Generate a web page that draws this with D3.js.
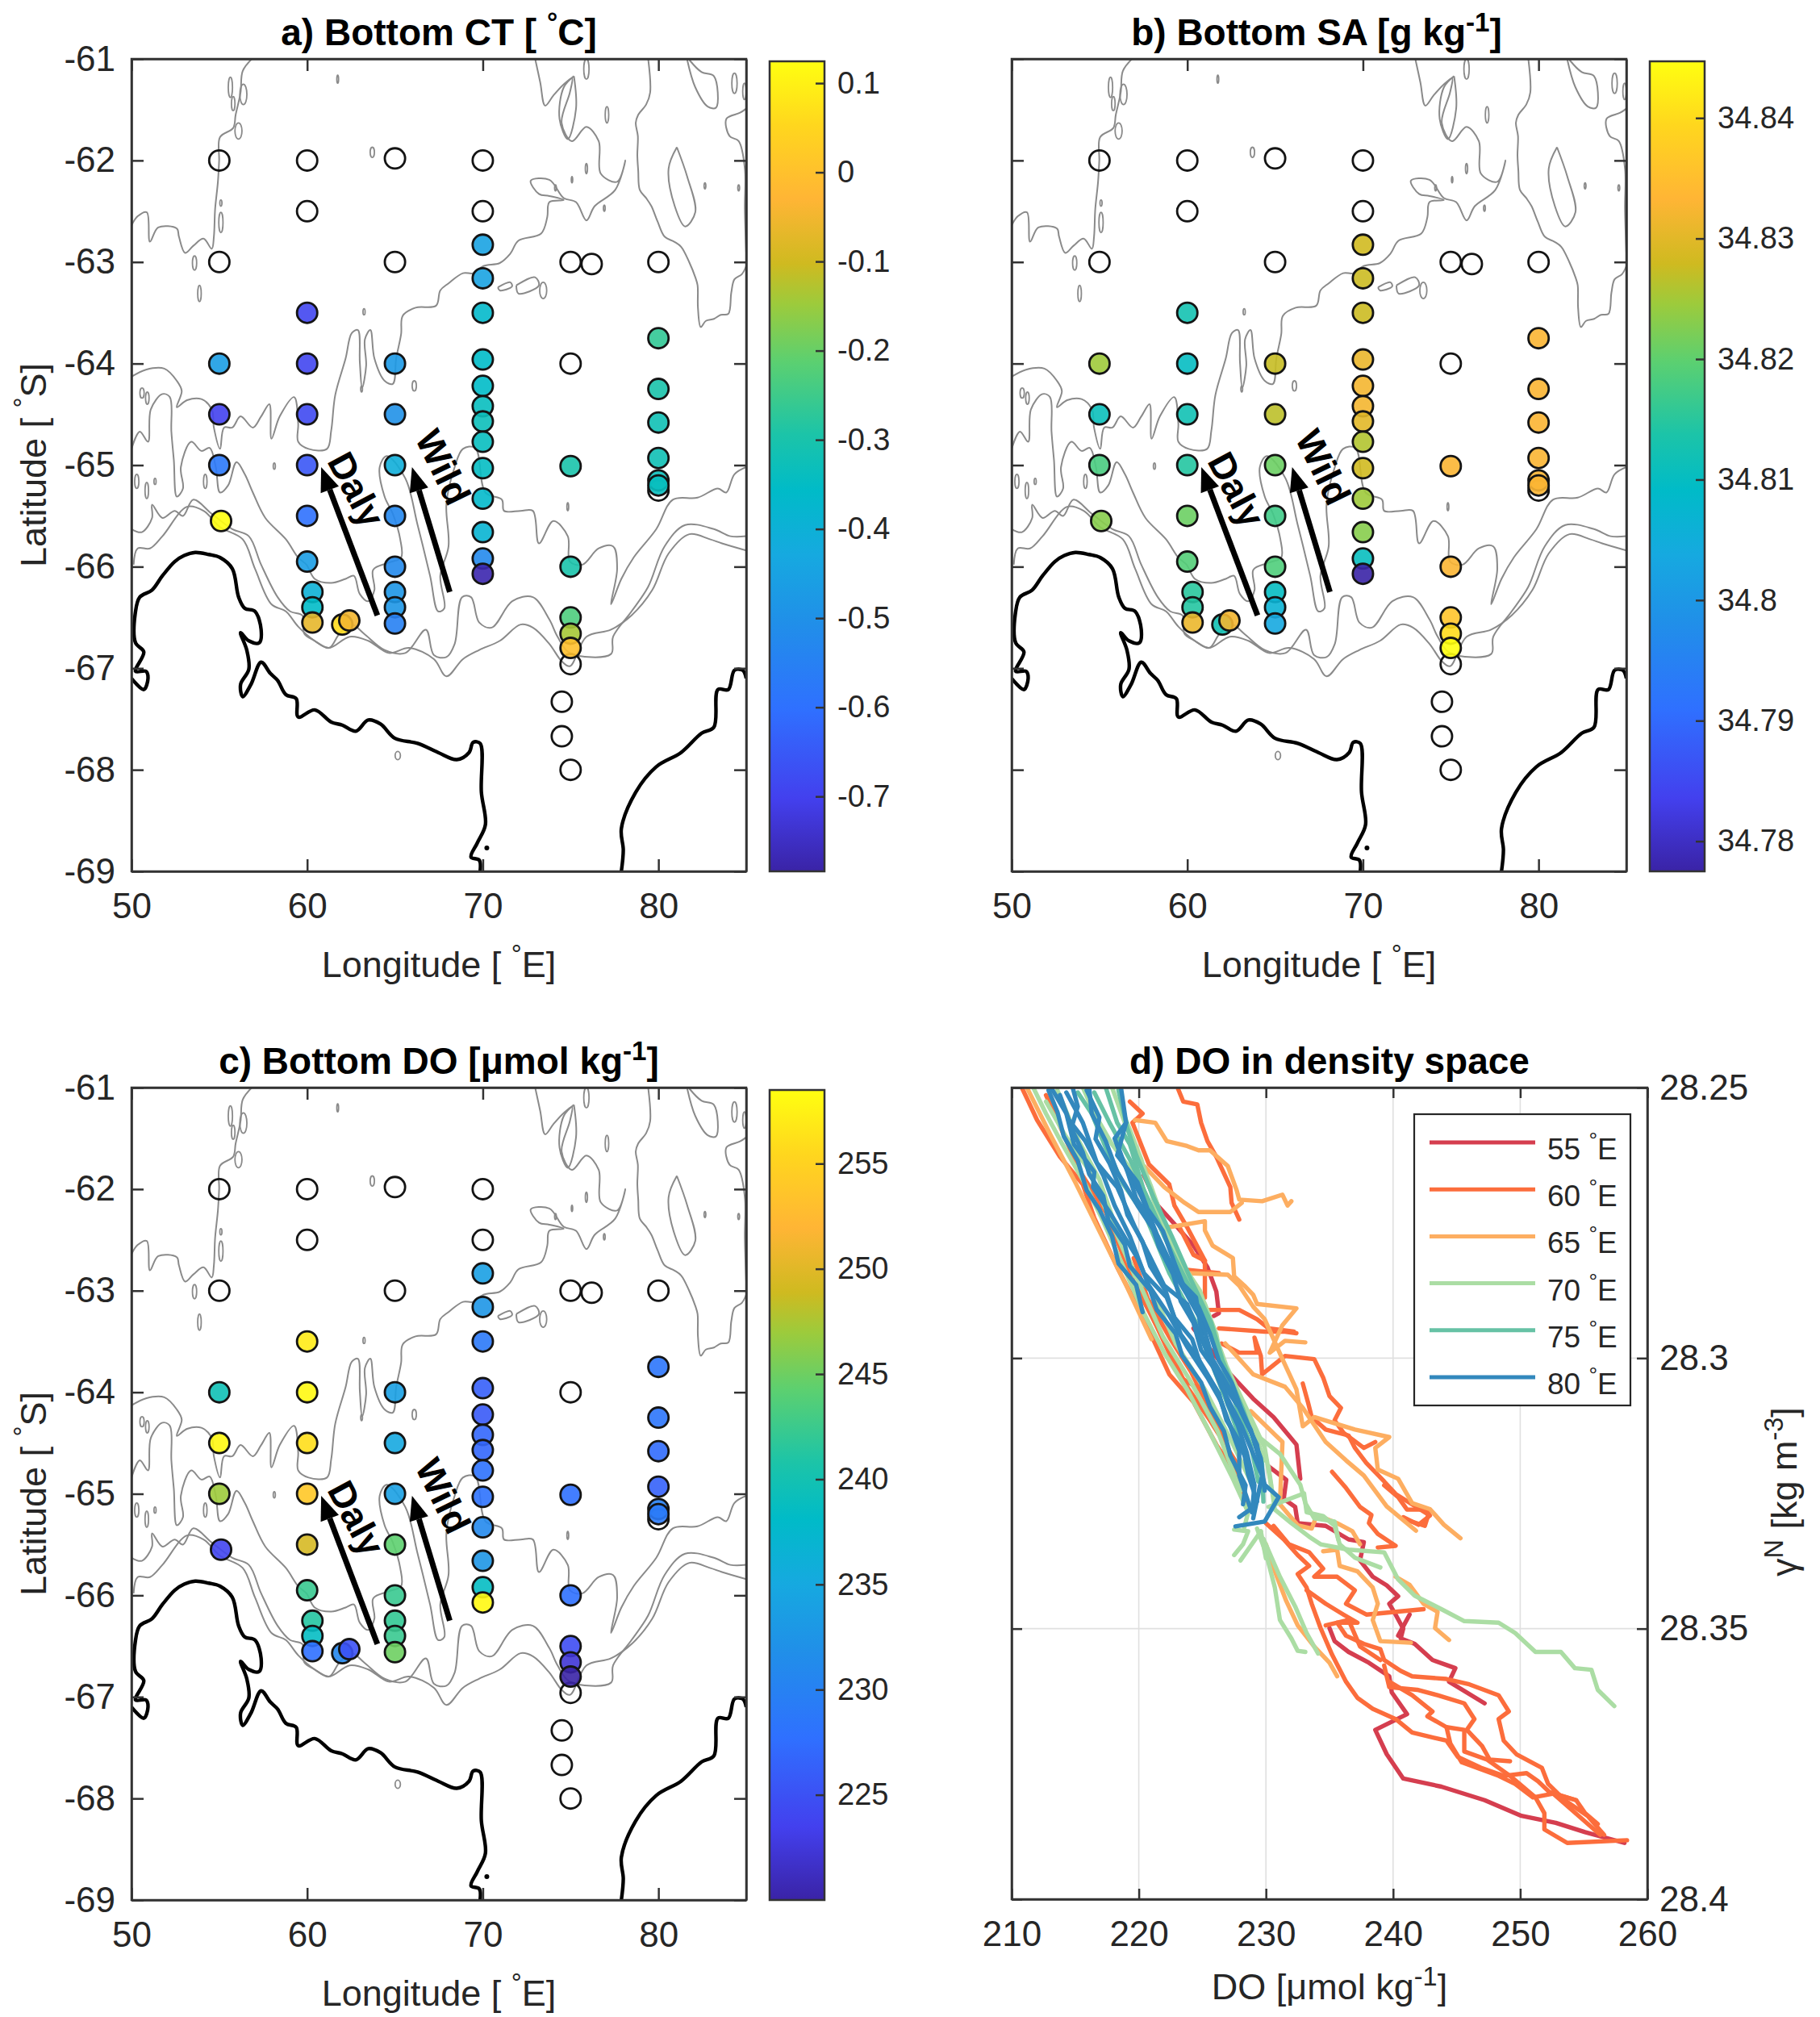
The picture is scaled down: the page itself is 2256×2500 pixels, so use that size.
<!DOCTYPE html>
<html>
<head>
<meta charset="utf-8">
<script src="https://d3js.org/d3.v7.min.js"></script>
<style>
  html, body { margin: 0; padding: 0; background: #fff; }
  svg text { font-family: "Liberation Sans", Arial, sans-serif; fill: #262626; }
</style>
</head>
<body>
<div id="chart"></div>
<script>
// stations: lon, lat, then bottom CT, SA and DO (null = no value, open circle)
var stationLon = [55,55,55,55,55,55.1,
  60,60,60,60,60,60,60,60,60.3,60.3,60.3,62,62.4,
  65,65,65,65,65,65,65,65,65,65,
  70,70,70,70,70,70,70,70,70,70,70,70,70,70,70,
  75,76.2,75,75,75,75,75,75,75,74.5,74.5,75,
  80,80,80,80,80,80,80,80];
var stationLat = [-62,-63,-64,-64.5,-65,-65.55,
  -62,-62.5,-63.5,-64,-64.5,-65,-65.5,-65.95,-66.25,-66.4,-66.55,-66.57,-66.53,
  -61.98,-63,-64,-64.5,-65,-65.5,-66,-66.25,-66.4,-66.56,
  -62,-62.5,-62.83,-63.16,-63.5,-63.96,-64.22,-64.42,-64.57,-64.77,-65.03,-65.33,-65.66,-65.92,-66.07,
  -63,-63.02,-64,-65.01,-66,-66.5,-66.66,-66.8,-66.96,-67.33,-67.67,-68,
  -63,-63.75,-64.25,-64.58,-64.93,-65.25,-65.15,-65.2];
var bottomCT = [null,null,-0.466,-0.70,-0.575,0.125,
  null,null,-0.69,-0.69,-0.684,-0.657,-0.60,-0.466,-0.40,-0.357,-0.066,0.06,-0.048,
  null,null,-0.475,-0.50,-0.41,-0.53,-0.52,-0.484,-0.484,-0.55,
  null,null,-0.448,-0.448,-0.366,-0.357,-0.357,-0.339,-0.33,-0.339,-0.348,-0.366,-0.384,-0.52,-0.775,
  null,null,null,-0.30,-0.30,-0.23,-0.139,-0.002,null,null,null,null,
  null,-0.266,-0.30,-0.32,-0.32,null,-0.33,-0.339];
var bottomSA = [null,null,34.8247,34.811,34.818,34.823,
  null,null,34.8125,34.81,34.812,34.8145,34.821,34.819,34.815,34.8145,34.831,34.812,34.832,
  null,null,34.8274,34.8267,34.821,34.8172,34.8186,34.81,34.8064,34.8036,
  null,null,34.828,34.8277,34.8277,34.831,34.832,34.832,34.83,34.826,34.828,34.8247,34.823,34.8104,34.7775,
  null,null,null,34.8328,34.8328,34.836,34.84,34.845,null,null,null,null,
  null,34.8328,34.8328,34.8328,34.8328,null,34.8328,34.8328];
var bottomDO = [null,null,239.6,258,247,223.9,
  null,null,257,258,256,254,249.3,242.3,241.2,238.5,227.7,230.8,225,
  null,null,233.9,235,233.9,244.3,242.3,242,242.3,245,
  null,null,233.9,232.7,228.9,226.2,225.8,226.9,226.9,228,228,231,232.7,238.5,258,
  null,null,null,227.7,227.7,224.6,222.3,220,null,null,null,null,
  null,228.5,228.5,227.3,226.5,null,230,229];

var ctTicks = [0.1,0,-0.1,-0.2,-0.3,-0.4,-0.5,-0.6,-0.7];
var saTicks = [34.84,34.83,34.82,34.81,34.8,34.79,34.78];
var doTicks = [255,250,245,240,235,230,225];
var ctRange = [-0.784,0.1245];
var saRange = [34.7775,34.8447];
var doRange = [220,258.5];

var lonTicks = [50,60,70,80];
var latTicks = [-61,-62,-63,-64,-65,-66,-67,-68,-69];
var doAxisTicks = [210,220,230,240,250,260];
var gammaTicks = [28.25,28.3,28.35,28.4];

// colormap
var cmapStops = [0,.09,.2,.31,.39,.47,.54,.63,.7,.75,.83,.92,1];
var cmapColors = ["#3a23a6","#4340ee","#2f70ff","#2090e8","#16a9e0","#00bbc8","#1cc4a8","#5cd070","#9ccb3c","#cfba20","#ffb535","#ffd61e","#ffff10"];

// coastline, lon/lat
var coastWest = [[50,-67.1],[50.7,-67.21],[50.94,-67.1],[50.82,-67.03],[50.23,-67.03],[50.7,-66.84],[50.23,-66.75],[50.23,-66.44],[50.47,-66.3],[51.17,-66.23],[51.76,-66.09],[52.46,-65.95],[53.0,-65.89],[53.63,-65.86],[54.4,-65.88],[55.04,-65.91],[55.74,-66.02],[56.1,-66.3],[56.45,-66.41],[57.03,-66.44],[57.38,-66.62],[57.27,-66.75],[56.68,-66.73],[56.21,-66.65],[56.56,-66.82],[56.68,-67.01],[56.21,-67.16],[56.33,-67.28],[56.8,-67.16],[57.38,-66.94],[57.9,-67.05],[58.32,-67.12],[58.79,-67.26],[59.38,-67.3],[59.49,-67.48],[60.43,-67.41],[61.37,-67.53],[62.0,-67.56],[62.77,-67.62],[63.48,-67.51],[64.18,-67.55],[65,-67.69],[66.29,-67.74],[67.46,-67.83],[68.52,-67.9],[69.22,-67.83],[69.45,-67.73],[69.85,-67.74],[69.92,-68.22],[70.15,-68.54],[69.69,-68.72],[69.33,-68.86],[69.8,-68.89],[69.85,-69]];
var coastEast = [[77.89,-69],[78,-68.79],[77.89,-68.58],[78.71,-68.22],[79.88,-67.97],[81.29,-67.83],[82.46,-67.64],[83.16,-67.58],[83.39,-67.21],[83.98,-67.21],[84.33,-67.02],[84.8,-67.02],[85,-67.1]];

// bathymetry contours, lon/lat
var contourNorth = [[50,-64.13],[50.82,-64.06],[51.87,-64.05],[52.58,-64.17],[52.86,-64.27],[52.58,-64.43],[53.16,-64.36],[53.98,-64.35],[54.57,-64.45],[54.69,-64.63],[55.04,-64.84],[55.27,-64.63],[55.74,-64.63],[56.21,-64.52],[56.91,-64.63],[57.38,-64.52],[57.85,-64.4],[57.97,-64.74],[58.44,-64.52],[59.26,-64.33],[59.49,-64.59],[59.49,-64.77],[60.08,-64.84],[61.13,-64.84],[61.37,-64.66],[61.6,-64.31],[62.19,-63.95],[62.54,-63.7],[62.89,-63.67],[63,-63.99],[63.13,-64.24],[63.36,-64.02],[63.29,-63.76],[63.6,-63.67],[63.83,-63.95],[64.41,-64.17],[64.88,-64.2],[65.07,-63.95],[65.35,-63.71],[65.44,-63.53],[66.17,-63.45],[67.34,-63.43],[67.58,-63.28],[68.05,-63.21],[68.87,-63.11],[69.45,-63.11],[70.04,-63.04],[70.97,-63.01],[71.56,-62.92],[72.03,-62.79],[73.32,-62.72],[73.67,-62.56],[73.79,-62.41],[74.61,-62.39],[73.79,-62.35],[73.2,-62.33],[72.73,-62.2],[73.79,-62.19],[74.61,-62.37],[75.31,-62.41],[75.9,-62.59],[76.37,-62.45],[77.54,-62.29],[78.12,-62],[77.65,-62.21],[76.72,-62.13],[76.6,-61.81],[75.9,-61.67],[75.08,-61.81],[74.49,-61.63],[74.96,-61.33],[75.08,-61.19],[74.61,-61.25],[74.02,-61.36],[73.55,-61.46],[73.27,-61.23],[72.97,-60.99]];
var contourMiddle = [[50,-64.84],[50.47,-64.67],[50.94,-64.77],[51.1,-64.45],[51.76,-64.3],[52.18,-64.33],[52.27,-64.67],[52.41,-64.95],[52.58,-65.31],[52.93,-65.23],[52.81,-65.02],[53.4,-64.77],[53.98,-64.86],[54.45,-64.83],[54.8,-65.02],[55.04,-65.27],[55.5,-65.2],[55.98,-64.97],[56.45,-65.09],[56.91,-65.27],[57.62,-65.52],[58.79,-65.73],[59.49,-65.91],[59.96,-65.98],[60.43,-66.12],[61.37,-66.16],[62.19,-66.12],[62.66,-66.09],[63,-66.27],[63.48,-66.34],[63.83,-66.23],[63.76,-66.03],[64.65,-65.96],[65.35,-65.91],[65.3,-65.73],[64.88,-65.48],[64.41,-65.31],[64.13,-65.02],[64.53,-64.91],[65.59,-65.13],[66.29,-65.59],[67,-66.09],[67.46,-66.44],[67.81,-66.41],[67.58,-66.09],[68.05,-65.8],[67.93,-65.38],[68.4,-65.02],[68.87,-64.84],[69.57,-64.83],[70.15,-65.27],[71.09,-65.34],[71.21,-65.45],[72.15,-65.45],[72.85,-65.45],[73.2,-65.77],[74.02,-65.55],[74.84,-65.7],[74.96,-65.95],[75.67,-65.98],[76.6,-65.82],[77.42,-65.8],[77.65,-66.02],[77.3,-66.37],[77.89,-66.12],[78.59,-65.91],[79.88,-65.63],[80.82,-65.34],[82.23,-65.32],[83.39,-65.23],[83.86,-65.27],[84.33,-65.09],[85,-65.02]];
var contourSouth1 = [[50,-65.63],[50.59,-65.66],[51.17,-65.52],[51.17,-65.39],[51.76,-65.52],[52.46,-65.45],[52.93,-65.5],[53.52,-65.34],[54.57,-65.48],[55.74,-65.63],[56.68,-65.7],[57.38,-65.98],[58.32,-66.3],[59.03,-66.44],[59.73,-66.48],[59.84,-66.66],[60.43,-66.73],[61.25,-66.8],[61.84,-66.66],[62.54,-66.57],[63.24,-66.66],[64.41,-66.82],[65.59,-66.85],[66.76,-66.62],[67.22,-66.87],[67.93,-66.89],[68.4,-66.76],[68.82,-66.3],[69.33,-66.3],[69.8,-66.55],[70.51,-66.6],[71.68,-66.34],[72.85,-66.3],[73.79,-66.52],[74.26,-66.69],[74.96,-66.85],[77.3,-66.86],[77.42,-66.69],[78.47,-66.44],[79.41,-66.2],[80.35,-65.8],[81.52,-65.59],[83.16,-65.63],[84.1,-65.7],[85,-65.7]];
var contourSouth2 = [[50.12,-65.98],[50.35,-65.82],[51.05,-65.82],[51.76,-65.7],[53.16,-65.41],[54.1,-65.45],[55.04,-65.61],[56.33,-65.73],[57.03,-66.02],[57.97,-66.37],[58.79,-66.44],[59.49,-66.59],[60.43,-66.73],[61.25,-66.8],[62.42,-66.69],[63.48,-66.73],[64.65,-66.85],[65.82,-66.8],[67.22,-66.91],[67.93,-67.08],[68.87,-66.91],[69.8,-66.82],[70.97,-66.73],[72.15,-66.57],[72.85,-66.6],[73.79,-66.76],[74.49,-66.93],[74.96,-66.98],[75.9,-66.69],[77.3,-66.62],[78.47,-66.48],[79.65,-66.23],[80.58,-65.87],[81.76,-65.68],[82.93,-65.73],[83.62,-65.77],[85,-65.84]];
var contourNW = [[56.91,-60.99],[56.33,-61.12],[56.21,-61.33],[55.93,-61.55],[55.79,-61.68],[55.04,-61.77],[54.99,-62],[54.92,-62.21],[54.76,-62.48],[54.69,-62.75],[54.57,-62.87],[54.1,-62.77],[53.52,-62.84],[53.05,-62.91],[52.7,-62.75],[52.58,-62.67],[51.52,-62.66],[51.05,-62.8],[50.87,-62.51],[50.35,-62.55],[50,-62.64]];
var contourNE = [[79.41,-60.99],[79.53,-61.33],[79.3,-61.45],[78.85,-61.55],[78.71,-61.63],[78.83,-61.76],[78.8,-61.95],[78.85,-62.1],[78.94,-62.29],[79.3,-62.37],[79.6,-62.45],[79.95,-62.6],[80.35,-62.75],[80.9,-62.8],[81.29,-62.85],[81.75,-63],[82.1,-63.15],[82.23,-63.23],[82.25,-63.45],[82.41,-63.64],[82.7,-63.58],[83.16,-63.56],[83.55,-63.52],[83.98,-63.51],[84.15,-63.3],[84.33,-63.17],[84.75,-63.12],[85,-63.04]];
var contourLoopE = [[81.05,-61.87],[80.58,-62.08],[80.93,-62.45],[81.52,-62.65],[82.1,-62.51],[81.64,-62.16],[81.05,-61.87]];
var contourLoopF = [[81.76,-61.01],[82.46,-61.13],[83.16,-61.17],[83.28,-61.48],[82.81,-61.47],[82.1,-61.28],[81.64,-61.01]];
var contourEdge = [[85,-61.49],[84.65,-61.53],[83.87,-61.59],[84.05,-61.76],[84.57,-61.81],[84.92,-62.08],[84.92,-62.48],[85,-62.91]];
var contourInner = [[75.19,-61.17],[75.31,-61.49],[74.84,-61.79],[74.37,-61.59],[74.61,-61.28],[75.19,-61.17]];
var contourIsle1 = [[70.86,-63.25],[71.56,-63.2],[71.67,-63.24],[70.97,-63.28],[70.86,-63.25]];
var contourIsle2 = [[71.91,-63.23],[72.97,-63.15],[73.2,-63.23],[72.03,-63.31],[71.91,-63.23]];
// small closed contours: lon, lat, half width, half height
var contourSpots = [[61.74,-61.2,.05,.04],[55.63,-61.28,.12,.1],[56.37,-61.35,.2,.1],[55.79,-61.44,.1,.07],[56.09,-61.71,.2,.08],[55.09,-62.42,.06,.03],[55.09,-62.61,.12,.1],[53.59,-63.01,.12,.07],[53.87,-63.31,.1,.08],[63.71,-61.92,.12,.05],[63.24,-63.49,.06,.03],[77.07,-61.55,.1,.08],[75.9,-61.1,.15,.1],[84.33,-61.24,.15,.1],[84.9,-61.32,.1,.08],[75.9,-62.08,.06,.05],[75.08,-62.19,.04,.03],[74.14,-62.27,.05,.03],[76.92,-62.47,.05,.03],[82.65,-62.25,.05,.03],[84.57,-62.27,.05,.03],[50.6,-64.29,.12,.05],[50.9,-64.34,.1,.06],[66.1,-64.22,.12,.05],[63.1,-64.25,.05,.03],[50.3,-65.16,.12,.07],[50.87,-65.25,.1,.08],[51.34,-65.16,.06,.03],[54.2,-65.16,.1,.07],[58.13,-65.01,.06,.03],[74.84,-65.41,.05,.04],[65.16,-67.86,.15,.04],[73.44,-63.28,.2,.08]];
var islet = [70.23,-68.77];

var dalyArrow = [[64,-66.48],[60.8,-65.02]];
var wildArrow = [[68.12,-66.25],[65.97,-65.02]];

// DO [umol/kg], gamma pairs, one list of profiles per longitude
var profiles55 = [
 [[220.4,28.2662],[221.5,28.2718],[222.8,28.2752],[224.3,28.2792],[225.4,28.2832],[226.1,28.2877],[226.3,28.2917],[225.9,28.2922]],
 [[224.3,28.2945],[227.2,28.303],[229,28.3075],[230.6,28.3109],[232.4,28.316],[232.7,28.3223]],
 [[230.2,28.32],[231.6,28.3225],[231.4,28.326],[232.3,28.3275],[232.5,28.3305],[234.7,28.331],[236.5,28.3335],[237.7,28.334],[237.4,28.3374],[238.4,28.3404],[239.5,28.342],[240.4,28.344],[239.7,28.3454],[240.2,28.3474],[240.8,28.35],[240.6,28.3518],[241.7,28.3528],[243.1,28.3558],[244.9,28.3573],[244.4,28.3598],[247.2,28.3638]],
 [[241.3,28.3474],[240.4,28.3513]],
 [[235,28.3499],[235.4,28.3523],[236.5,28.3543],[238.1,28.3563],[239.7,28.3588],[239.9,28.3618],[241.1,28.3658],[238.6,28.3687],[239.5,28.3732],[240.8,28.3777],[243.8,28.3792],[247.2,28.3817],[250.1,28.3846],[252.8,28.3859],[255.1,28.3876],[258.2,28.3896]]
];
var profiles60 = [
 [[223.1,28.2503],[223.5,28.2526],[224.6,28.2531],[224.9,28.2565],[225.4,28.2599],[226.1,28.2628],[227.2,28.2684],[227.3,28.2713],[227.9,28.2744]],
 [[219.3,28.2526],[220.3,28.2548],[219.5,28.2565],[220.8,28.2642],[222.4,28.2679],[222.8,28.2718],[223.8,28.2758],[225.2,28.282],[225.2,28.2888]],
 [[225.4,28.2911],[227.9,28.2911],[229.3,28.2928],[230.2,28.2945],[232.2,28.2951]],
 [[226.3,28.2945],[229.9,28.2951],[231.5,28.2951],[232.4,28.2954]],
 [[226.5,28.2973],[227.9,28.299],[229.3,28.299],[229.1,28.2962],[229.6,28.2996],[229.7,28.303],[231.5,28.2996],[233.8,28.3002],[234.5,28.3036],[235,28.307],[235.9,28.3092],[235.4,28.3115],[236.1,28.3138],[237.7,28.3166],[238.6,28.3155]],
 [[232.9,28.3047],[233.3,28.3081],[233.6,28.3109],[234.7,28.3132],[236.5,28.3143],[237,28.3166],[237.9,28.3194],[239.3,28.3228],[240.2,28.3251],[242.9,28.3291],[242,28.3308],[240.8,28.3294]],
 [[235.2,28.321],[236.3,28.324],[237.4,28.3275],[238.3,28.329],[238.1,28.3305],[238.8,28.3325],[240.2,28.3347],[238.8,28.335]],
 [[239.3,28.3235],[240.4,28.3257],[241.1,28.328],[242.9,28.328],[242.5,28.331],[240.8,28.3297]],
 [[230,28.3305],[231.4,28.3335],[232.5,28.3364],[233.4,28.3384],[232.5,28.3399],[233.2,28.3424],[233.6,28.3454],[234.3,28.3499],[235.2,28.3548],[236.3,28.3598],[237.2,28.3628],[238.4,28.3648],[240.2,28.3667],[241.5,28.3692],[244.2,28.3707],[245.1,28.3737],[246.9,28.3757],[248.7,28.3772],[250.5,28.3767],[251.4,28.3782],[252.3,28.3802],[254.4,28.3817]],
 [[230.6,28.331],[231.8,28.3344],[233.4,28.3359],[234.5,28.3389],[233.8,28.3404],[235.6,28.3404],[237,28.3429],[236.3,28.3454],[237.9,28.3474],[242.4,28.3464]],
 [[233.2,28.3429],[234.7,28.3454],[236.1,28.3474],[237.2,28.3489],[235.6,28.3489],[236.3,28.3513],[237.7,28.3528],[239,28.3538],[239.3,28.3558],[240.6,28.3578],[241.5,28.3588],[244.2,28.3593],[246,28.3603],[248.3,28.3623],[249.1,28.3653],[248.3,28.3667],[248.7,28.3707],[249.7,28.3732],[251.7,28.3757],[252.2,28.3787],[253.5,28.3817],[255.3,28.3846],[256.6,28.3881]],
 [[239.3,28.3568],[239.7,28.3608],[241.9,28.3613],[243.5,28.3623],[245.6,28.3638],[246.4,28.3667],[245.8,28.3687],[247,28.3717],[247.6,28.3742],[249.2,28.3745]],
 [[239.7,28.3598],[241.5,28.3623],[243.1,28.3653],[242.7,28.3662],[244.2,28.3682],[245.6,28.3687],[245.6,28.3727],[247.4,28.3742],[249.2,28.3772],[251.2,28.3812],[251.9,28.3841],[251.9,28.3871],[253.7,28.3896],[258.4,28.3891]],
 [[244.2,28.3682],[244.5,28.3712],[245.4,28.3747],[248.3,28.3772],[249.6,28.3787],[251,28.3812],[252.6,28.3805],[254.4,28.3817],[255.1,28.3841],[256.1,28.3861]],
 [[252.6,28.3805],[256.3,28.3881]],
 [[234.7,28.3494],[236.5,28.3484],[237.4,28.3533],[239,28.3558]],
 [[210.8,28.25],[212,28.256],[213.8,28.2628],[215.6,28.2679],[216.5,28.2741],[218.3,28.2832],[220.4,28.2928],[222.4,28.303],[224.3,28.3081],[226.1,28.316],[227.7,28.3217],[228.6,28.3274]],
 [[212.7,28.2514],[214,28.2582],[215.4,28.2656],[217.4,28.273],[219.5,28.2854],[221.5,28.2945],[223.8,28.3053],[225.6,28.3115],[227.7,28.3194]],
 [[220.2,28.2866],[220.8,28.2911],[223.3,28.3036],[225.2,28.3064],[227,28.3183]],
 [[223.2,28.2758],[224.3,28.2809],[225.2,28.282]],
 [[223.8,28.2837],[226.3,28.2843]],
 [[219.6,28.2815],[220.7,28.289],[222.5,28.2965],[224.1,28.3025],[225.9,28.311],[226.8,28.315],[228.1,28.324]]
];
var profiles65 = [
 [[219.7,28.256],[221.3,28.2565],[222.2,28.2599],[223.8,28.2608],[224.7,28.2616],[225.6,28.2616],[227,28.2645],[227.7,28.269],[227.9,28.2707],[229.7,28.271],[231.3,28.2698],[231.7,28.2718],[232,28.271]],
 [[220.4,28.2645],[222,28.2684],[223.6,28.2713],[224.7,28.273],[227.2,28.273],[228.1,28.2713]],
 [[222.4,28.2758],[225.2,28.2747],[225.2,28.2764],[225.8,28.2792],[227.4,28.2815],[227.5,28.2849],[228.3,28.2866],[229,28.2883],[229.3,28.29],[232.4,28.2908],[231.3,28.2939],[230.3,28.299],[231.5,28.2968],[233.1,28.2971]],
 [[223.8,28.2843],[227,28.2846],[227.9,28.2866],[229,28.2905],[229.9,28.2928],[231.3,28.3002],[232.4,28.3058],[232.9,28.3126],[233.8,28.3109],[237,28.3132],[239.7,28.3146],[238.6,28.3166],[238.8,28.3206],[240.4,28.3223],[241.5,28.3268],[242.9,28.3279],[244,28.3308],[245.3,28.3333]],
 [[226.8,28.2973],[229,28.303],[231.5,28.3053],[232.9,28.3092],[234.7,28.3155],[236.3,28.3189],[237.7,28.3217],[239.5,28.3274],[241.8,28.3319]],
 [[228.8,28.3098],[231.3,28.3155],[231.1,28.327],[232.5,28.3309],[233.6,28.3315],[234,28.329],[235.6,28.3305],[236.8,28.332],[237.4,28.3344]],
 [[234.5,28.3357],[235.6,28.3354],[235.8,28.3384],[237.2,28.3394],[238.4,28.3424],[238.8,28.3454],[238.4,28.3484],[239,28.3523],[241.4,28.3526]],
 [[240.2,28.3404],[241.3,28.3419],[242.4,28.3454],[243.5,28.3469],[243.3,28.3499],[244.4,28.3521]],
 [[230,28.3344],[230.7,28.3394],[231.6,28.3449],[232.5,28.3494],[233.8,28.3533],[235,28.3563],[235.6,28.3588]],
 [[211.2,28.25],[213,28.2585],[215,28.2675],[217,28.277],[219,28.2865],[221,28.2965]]
];
var profiles70 = [
 [[211.7,28.25],[212.7,28.2548],[214,28.2605],[215.8,28.2679],[217.2,28.2747],[218.8,28.2832],[220.4,28.2917],[222,28.299],[223.8,28.3058],[225.6,28.3138],[227.4,28.3223],[228.6,28.3285],[228.3,28.3313]],
 [[212.7,28.2526],[214.2,28.2588],[216,28.265],[217.7,28.2741],[219.7,28.2849],[221.1,28.2877],[222.9,28.2973],[225.2,28.3058],[227.2,28.3149],[228.8,28.3228]],
 [[218.8,28.2548],[220.2,28.2633],[221.5,28.2735],[222.9,28.2815],[224.3,28.286],[225.2,28.29],[226.1,28.2956],[226.5,28.3007],[227.7,28.307],[229.3,28.3143],[231.1,28.3177],[232.7,28.3234],[233.1,28.3268],[233.8,28.3296],[235.4,28.3302],[235.7,28.3336]],
 [[230.2,28.32],[230.7,28.328],[232,28.3305],[233.4,28.333],[234.3,28.3344],[236.5,28.3354],[239.3,28.3359],[240.4,28.3409],[241.7,28.3439],[243.8,28.3464],[245.6,28.3486],[248.3,28.3489],[249.6,28.3508],[251.2,28.3543],[253.2,28.3543],[254.3,28.3573],[255.6,28.3576],[256.1,28.3613],[257.4,28.3643]],
 [[230.2,28.3275],[233,28.325],[233.2,28.3285],[234.5,28.3292],[235.4,28.331],[235.8,28.3344],[237,28.3369],[239,28.3387]],
 [[229.3,28.3315],[230,28.336],[230.7,28.3424],[231.1,28.3484],[232,28.3518],[232.5,28.3541],[233.1,28.3543]],
 [[229.8,28.3334],[231.1,28.3404],[232.3,28.3459],[233.2,28.3508],[234.1,28.3546]],
 [[227.5,28.3317],[228.6,28.332],[228.2,28.3344],[227.5,28.3364]],
 [[229.6,28.332],[228,28.3374]],
 [[229.6,28.332],[230,28.337]],
 [[215.6,28.25],[216.5,28.2548],[217.9,28.2605],[219.7,28.2662],[221.5,28.2747],[222.7,28.2809],[224.7,28.2888],[225.8,28.2956],[226.5,28.3002],[227.4,28.3058],[229,28.3132],[229.9,28.3189]],
 [[217.9,28.25],[218.9,28.2565],[220,28.2625],[221,28.2685],[222.2,28.2765],[223.4,28.2825],[224.8,28.2875],[225.9,28.295],[226.9,28.3015],[228.2,28.308],[229.9,28.3165],[230.4,28.3235]],
 [[213.6,28.2505],[215.2,28.2595],[216.9,28.267],[218.6,28.2785],[220.3,28.2875],[221.9,28.296],[224,28.304],[226.2,28.3135],[228,28.3245]]
];
var profiles75 = [
 [[217.4,28.25],[218.3,28.2565],[219.3,28.2605],[220.4,28.269],[222,28.2775],[223.8,28.286],[225.2,28.2917],[226.1,28.2979],[227.2,28.3058],[228.8,28.316],[229.4,28.3228]],
 [[215.2,28.2509],[216.3,28.2548],[217.4,28.2611],[218.8,28.2679],[220.6,28.2741],[222.4,28.2843],[224.5,28.2934],[225.6,28.3002],[227.2,28.3098],[228.3,28.3172]],
 [[216.5,28.2509],[217.7,28.2565],[219.3,28.2633],[220.8,28.271],[222.6,28.2805],[224.2,28.2895]],
 [[218.4,28.2505],[219.1,28.2575],[219.8,28.2625],[221.2,28.2705],[222.6,28.2775],[224.1,28.2855],[225.7,28.2935],[226.6,28.3005],[228.2,28.3095],[229.7,28.3195],[229.8,28.3265]]
];
var profiles80 = [
 [[213.1,28.25],[214.3,28.2548],[214.9,28.2605],[216.5,28.2656],[216.4,28.2684],[217.7,28.273],[219,28.2781],[219.9,28.2815],[220.8,28.2866],[222.4,28.2922],[223.8,28.2979],[225.4,28.3036],[226.5,28.3081],[227.9,28.3172],[227.9,28.3217],[228.8,28.3279],[227.9,28.3294]],
 [[214.3,28.2509],[215.6,28.2565],[216.7,28.2639],[218.3,28.2684],[219.7,28.2758],[220.8,28.2809],[222,28.2866],[223.8,28.29],[225.2,28.2979],[226.5,28.3053],[228.1,28.3126],[229.7,28.3217],[229.9,28.3234],[231,28.3257],[229.9,28.3302],[227.6,28.3311]],
 [[216.1,28.25],[216.3,28.2548],[217.4,28.2599],[218.3,28.2656],[219.9,28.2718],[221.5,28.2775],[223.1,28.2854],[224.5,28.2888],[225,28.2962],[226.1,28.303],[227.9,28.3092],[229.3,28.316],[229.7,28.3217],[229,28.3296]],
 [[218.6,28.25],[219,28.2565],[218.1,28.2594],[218.8,28.2639],[220.2,28.2701],[221.3,28.2764],[222.2,28.282],[223.8,28.2883],[225,28.2934],[225.8,28.3002],[227.2,28.3058],[228.8,28.3132],[229.5,28.3189]],
 [[213.8,28.2514],[214.5,28.256],[215.8,28.2599],[217.2,28.2662],[218.1,28.2718],[219.3,28.2775],[220.4,28.2843],[222.2,28.2888],[223.3,28.2956],[224.7,28.3002],[226.1,28.3058],[227,28.3115],[228.6,28.3194]],
 [[214.8,28.25],[215.2,28.2535],[214.7,28.2575],[215.6,28.262],[216.1,28.266],[217.2,28.27],[217.6,28.2745],[218.9,28.279],[219.3,28.283],[220.9,28.2875],[221.4,28.291],[222.9,28.2955],[223.4,28.2995],[224.9,28.3045],[225.6,28.309],[226.7,28.3135],[227.2,28.318],[228.4,28.3235],[228.2,28.327]],
 [[215.9,28.2505],[216.9,28.2555],[216.6,28.2595],[217.7,28.264],[218.6,28.269],[219.1,28.2735],[220.3,28.2785],[220.9,28.283],[222.1,28.2875],[222.8,28.2925],[224.2,28.2965],[224.9,28.3015],[226.3,28.3065],[226.9,28.3115],[228.2,28.3165],[228.6,28.3215],[229.3,28.3265]],
 [[212.9,28.2505],[213.6,28.2545],[214.1,28.259],[215.2,28.2635],[215.9,28.269],[216.9,28.2725],[217.9,28.2775],[218.4,28.2825],[219.8,28.2865],[220.3,28.2915]],
 [[218.3,28.2605],[219.1,28.2655],[219.8,28.2705],[220.9,28.2745],[221.6,28.2795],[222.7,28.2845],[223.3,28.2895],[224.3,28.2935],[224.9,28.2985],[226.4,28.3035],[227,28.3085],[227.8,28.3125],[228.5,28.3175],[229.1,28.3235],[228.9,28.3285]],
 [[219,28.2565],[218.3,28.2625],[219.9,28.2675],[220.7,28.2725],[221.9,28.2765],[222.9,28.283],[223.5,28.2865],[224.7,28.2905],[225.6,28.2955],[226.3,28.3005],[227.3,28.3045],[228,28.309],[228.9,28.314],[229.6,28.3185],[229.9,28.3245]]
];
var legendLabels = ["55","60","65","70","75","80"];
var legendColors = ["#d53e4f","#fc6d3c","#fdae61","#abdda4","#66c2a5","#3288bd"];
var allProfiles = [profiles55,profiles60,profiles65,profiles70,profiles75,profiles80];

var svg = d3.select("#chart").append("svg")
    .attr("width", 2256)
    .attr("height", 2500);

var cmap = d3.scaleLinear().domain(cmapStops).range(cmapColors).clamp(true);
var axisColor = "#333";

// text with superscript parts: [["a) ",0],["x",1]]
function richText(sel, parts, sup) {
    var raised = false;
    parts.forEach(function(p) {
        var t = sel.append("tspan").text(p[0]);
        if (p[1] && !raised) { t.attr("dy", -sup).style("font-size", "0.72em"); raised = true; }
        else if (!p[1] && raised) { t.attr("dy", sup); raised = false; }
    });
}

function styleAxis(g, size) {
    g.selectAll("path,line").attr("stroke", axisColor).attr("stroke-width", 2.5);
    g.selectAll("text").style("font-size", (size || 44) + "px");
}

function boxAxes(g, x, y, xt, yt, tick, showY, yRight) {
    var bottom = d3.max(y.range());
    g.append("g").attr("transform", "translate(0," + bottom + ")")
        .call(d3.axisBottom(x).tickValues(xt).tickSize(-tick).tickSizeOuter(0).tickPadding(27).tickFormat(function(d) { return String(d); }))
        .call(styleAxis);
    g.append("g")
        .call(d3.axisTop(x).tickValues(xt).tickSize(-tick).tickSizeOuter(0).tickFormat(""))
        .call(styleAxis);
    g.append("g")
        .call(d3.axisLeft(y).tickValues(yt).tickSize(-tick).tickSizeOuter(0).tickPadding(20).tickFormat(function(d) { return showY && !yRight ? String(d) : ""; }))
        .call(styleAxis);
    g.append("g").attr("transform", "translate(" + x.range()[1] + ",0)")
        .call(d3.axisRight(y).tickValues(yt).tickSize(-tick).tickSizeOuter(0).tickPadding(15).tickFormat(function(d) { return yRight ? String(d) : ""; }))
        .call(styleAxis);
}

function colorbar(g, id, range, ticks, w, h, x0) {
    var grad = svg.append("defs").append("linearGradient").attr("id", id)
        .attr("x1", 0).attr("x2", 0).attr("y1", 1).attr("y2", 0);
    grad.selectAll("stop").data(cmapStops).enter().append("stop")
        .attr("offset", function(d) { return d; })
        .attr("stop-color", function(d) { return cmap(d); });

    var cb = g.append("g").attr("transform", "translate(" + x0 + ",3)");
    var s = d3.scaleLinear().domain(range).range([h - 3, 0]);
    cb.append("rect").attr("width", w).attr("height", h - 3)
        .attr("fill", "url(#" + id + ")")
        .attr("stroke", axisColor).attr("stroke-width", 2.5);
    cb.append("g").attr("transform", "translate(" + w + ",0)")
        .call(d3.axisRight(s).tickValues(ticks).tickSize(-11).tickSizeOuter(0).tickPadding(16).tickFormat(function(d) { return String(d); }))
        .call(styleAxis, 38)
        .select(".domain").remove();
}

function mapPanel(left, top, id, titleParts, values, range, ticks, showY) {
    var W = 762, H = 1007;
    var g = svg.append("g").attr("transform", "translate(" + left + "," + top + ")");
    var x = d3.scaleLinear().domain([50, 85]).range([0, W]);
    var y = d3.scaleLinear().domain([-69, -61]).range([H, 0]);

    g.append("clipPath").attr("id", "clip" + id).append("rect").attr("width", W).attr("height", H);
    var plot = g.append("g").attr("clip-path", "url(#clip" + id + ")");
    var line = d3.line().x(function(d) { return x(d[0]); }).y(function(d) { return y(d[1]); })
        .curve(d3.curveCatmullRom);

    var contours = [contourNorth, contourMiddle, contourSouth1, contourSouth2, contourNW, contourNE, contourLoopE, contourLoopF, contourEdge, contourInner, contourIsle1, contourIsle2];
    plot.selectAll("path.contour").data(contours).enter().append("path")
        .attr("class", "contour")
        .attr("d", line)
        .attr("fill", "none").attr("stroke", "#8a8a8a").attr("stroke-width", 2);
    plot.selectAll("ellipse.spot").data(contourSpots).enter().append("ellipse")
        .attr("class", "spot")
        .attr("cx", function(d) { return x(d[0]); })
        .attr("cy", function(d) { return y(d[1]); })
        .attr("rx", function(d) { return x(50 + d[2]) - x(50); })
        .attr("ry", function(d) { return y(-69) - y(-69 + d[3]); })
        .attr("fill", "none").attr("stroke", "#8a8a8a").attr("stroke-width", 1.8);

    plot.selectAll("path.coast").data([coastWest, coastEast]).enter().append("path")
        .attr("class", "coast")
        .attr("d", line)
        .attr("fill", "none").attr("stroke", "#000").attr("stroke-width", 4.4).attr("stroke-linejoin", "round");
    plot.append("circle").attr("cx", x(islet[0])).attr("cy", y(islet[1])).attr("r", 3).attr("fill", "#000");

    // arrows
    [[dalyArrow, "Daly", 62.8, -65.24, 62], [wildArrow, "Wild", 67.75, -65.02, 64]].forEach(function(a) {
        var p0 = [x(a[0][0][0]), y(a[0][0][1])], p1 = [x(a[0][1][0]), y(a[0][1][1])];
        var dx = p1[0] - p0[0], dy = p1[1] - p0[1], len = Math.sqrt(dx * dx + dy * dy);
        var ux = dx / len, uy = dy / len, hl = 30, hw = 12;
        plot.append("line")
            .attr("x1", p0[0]).attr("y1", p0[1])
            .attr("x2", p1[0] - ux * hl).attr("y2", p1[1] - uy * hl)
            .attr("stroke", "#000").attr("stroke-width", 7);
        plot.append("polygon")
            .attr("points", [p1,
                [p1[0] - ux * hl - uy * hw, p1[1] - uy * hl + ux * hw],
                [p1[0] - ux * hl + uy * hw, p1[1] - uy * hl - ux * hw]].join(" "))
            .attr("fill", "#000");
        plot.append("text")
            .attr("transform", "translate(" + x(a[2]) + "," + y(a[3]) + ") rotate(" + a[4] + ")")
            .attr("text-anchor", "middle").attr("dy", "0.35em")
            .style("font-size", "46px").style("font-weight", "bold").style("fill", "#000")
            .text(a[1]);
    });

    // open stations first, coloured ones on top, north to south
    var idx = d3.range(stationLon.length);
    var order = idx.filter(function(i) { return values[i] === null; })
        .concat(idx.filter(function(i) { return values[i] !== null; }));
    plot.selectAll("circle.station").data(order).enter().append("circle")
        .attr("class", "station")
        .attr("cx", function(i) { return x(stationLon[i]); })
        .attr("cy", function(i) { return y(stationLat[i]); })
        .attr("r", 12.6)
        .attr("fill", function(i) { return values[i] === null ? "none" : cmap((values[i] - range[0]) / (range[1] - range[0])); })
        .attr("fill-opacity", 0.9)
        .attr("stroke", "#141414").attr("stroke-width", 2.8);

    boxAxes(g, x, y, lonTicks, latTicks, 15, showY, false);
    g.append("rect").attr("width", W).attr("height", H).attr("fill", "none").attr("stroke", axisColor).attr("stroke-width", 2.5);

    colorbar(g, "cb" + id, range, ticks, 68, H, 791);

    richText(g.append("text").attr("x", W / 2 + (id === "b" ? -3 : 0)).attr("y", -17).attr("text-anchor", "middle")
        .style("font-size", "46px").style("font-weight", "bold").style("fill", "#000"), titleParts, 17);
    richText(g.append("text").attr("x", W / 2).attr("y", 1138).attr("text-anchor", "middle")
        .style("font-size", "45px"), [["Longitude [ ", 0], ["°", 1], ["E]", 0]], 17);
    if (showY) {
        richText(g.append("text").attr("transform", "translate(-106," + H / 2 + ") rotate(-90)").attr("text-anchor", "middle")
            .style("font-size", "45px"), [["Latitude [ ", 0], ["°", 1], ["S]", 0]], 17);
    }
}

mapPanel(163, 73, "a", [["a) Bottom CT [ ", 0], ["°", 1], ["C]", 0]], bottomCT, ctRange, ctTicks, true);
mapPanel(1254, 73, "b", [["b) Bottom SA [g kg", 0], ["-1", 1], ["]", 0]], bottomSA, saRange, saTicks, false);
mapPanel(163, 1348, "c", [["c) Bottom DO [μmol kg", 0], ["-1", 1], ["]", 0]], bottomDO, doRange, doTicks, true);

// panel d
(function() {
    var W = 788, H = 1006;
    var g = svg.append("g").attr("transform", "translate(1254,1348)");
    var x = d3.scaleLinear().domain([210, 260]).range([0, W]);
    var y = d3.scaleLinear().domain([28.25, 28.4]).range([0, H]);

    g.selectAll("line.gx").data(doAxisTicks.slice(1, 5)).enter().append("line")
        .attr("class", "gx")
        .attr("x1", x).attr("x2", x).attr("y1", 0).attr("y2", H)
        .attr("stroke", "#e0e0e0").attr("stroke-width", 1.6);
    g.selectAll("line.gy").data(gammaTicks.slice(1, 3)).enter().append("line")
        .attr("class", "gy")
        .attr("y1", y).attr("y2", y).attr("x1", 0).attr("x2", W)
        .attr("stroke", "#e0e0e0").attr("stroke-width", 1.6);

    g.append("clipPath").attr("id", "clipd").append("rect").attr("width", W).attr("height", H);
    var plot = g.append("g").attr("clip-path", "url(#clipd)");
    var line = d3.line().x(function(d) { return x(d[0]); }).y(function(d) { return y(d[1]); });

    allProfiles.forEach(function(profiles, k) {
        plot.selectAll("path.p" + k).data(profiles).enter().append("path")
            .attr("class", "p" + k)
            .attr("d", line)
            .attr("fill", "none")
            .attr("stroke", legendColors[k])
            .attr("stroke-width", 5.4)
            .attr("stroke-linejoin", "round")
            .attr("stroke-linecap", "round");
    });

    boxAxes(g, x, y, doAxisTicks, gammaTicks, 13, false, true);
    g.append("rect").attr("width", W).attr("height", H).attr("fill", "none").attr("stroke", axisColor).attr("stroke-width", 2.5);

    // legend
    var lg = svg.append("g").attr("transform", "translate(1753,1381)");
    lg.append("rect").attr("width", 268).attr("height", 361).attr("fill", "#fff").attr("stroke", "#262626").attr("stroke-width", 2.2);
    var row = d3.scaleLinear().domain([0, 5]).range([35, 326]);
    legendLabels.forEach(function(lab, i) {
        lg.append("line").attr("x1", 19).attr("x2", 150).attr("y1", row(i)).attr("y2", row(i))
            .attr("stroke", legendColors[i]).attr("stroke-width", 5);
        richText(lg.append("text").attr("x", 165).attr("y", row(i) + 21).style("font-size", "37px"),
            [[lab + " ", 0], ["°", 1], ["E", 0]], 15);
    });

    richText(g.append("text").attr("x", W / 2).attr("y", -17).attr("text-anchor", "middle")
        .style("font-size", "46px").style("font-weight", "bold").style("fill", "#000"), [["d) DO in density space", 0]], 17);
    richText(g.append("text").attr("x", W / 2).attr("y", 1130).attr("text-anchor", "middle")
        .style("font-size", "45px"), [["DO [μmol kg", 0], ["-1", 1], ["]", 0]], 17);
    richText(g.append("text").attr("transform", "translate(973," + (H / 2 - 2) + ") rotate(-90)").attr("text-anchor", "middle")
        .style("font-size", "45px"), [["γ", 0], ["N", 1], [" [kg m", 0], ["-3", 1], ["]", 0]], 17);
})();
</script>
</body>
</html>
